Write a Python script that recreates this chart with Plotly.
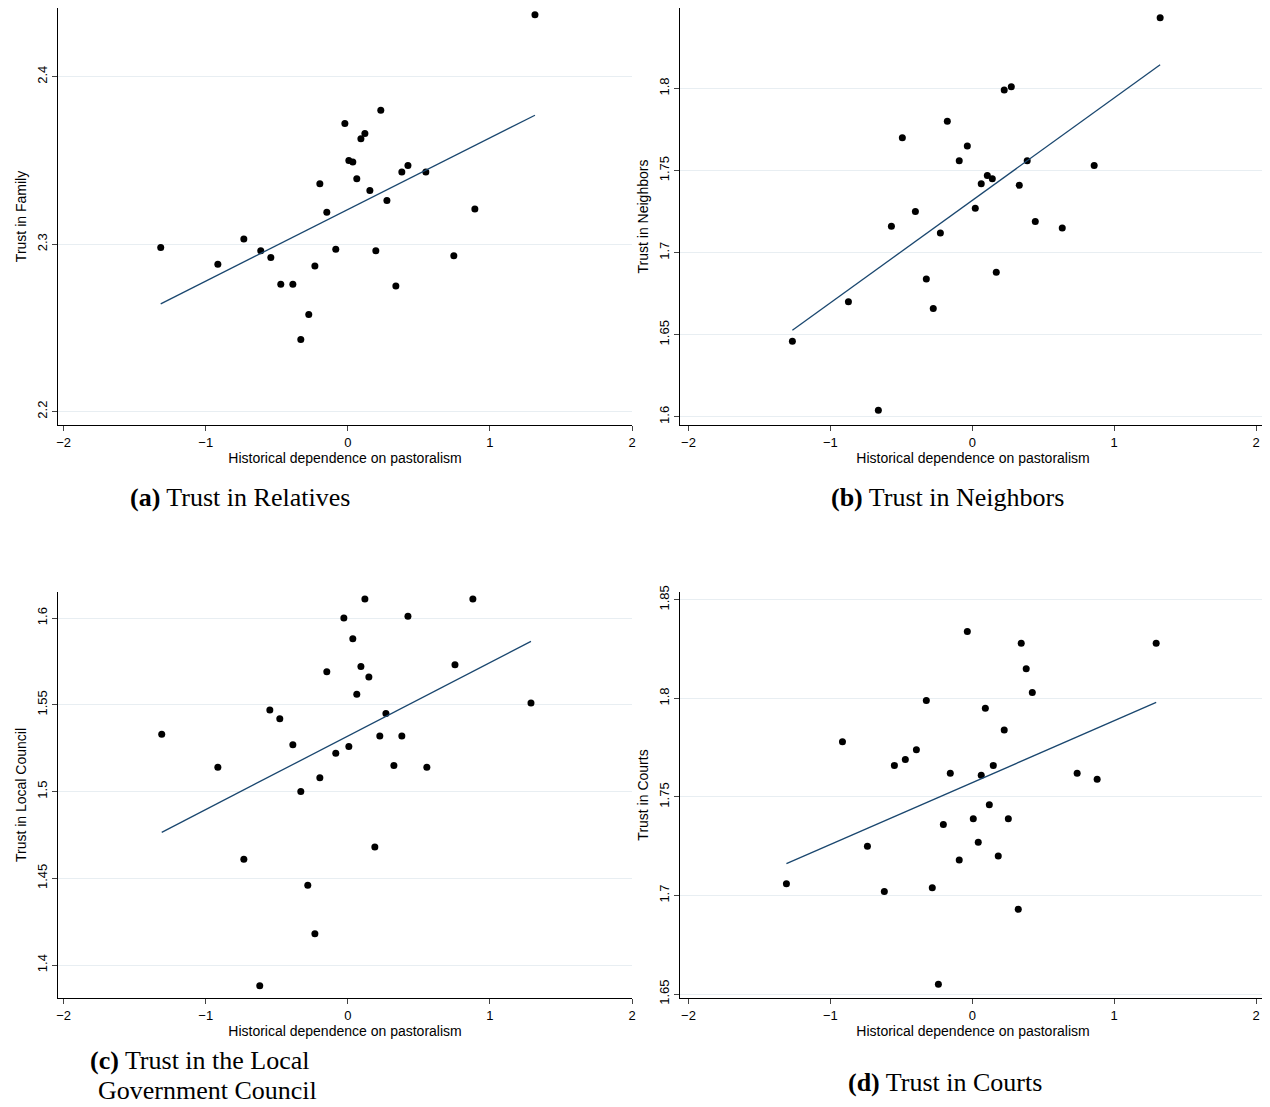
import numpy as np
import plotly.graph_objects as go

# Panel (a) Trust in Relatives
xa = [-1.317, -0.915, -0.732, -0.613, -0.542, -0.472, -0.387, -0.331, -0.275, -0.232,
      -0.197, -0.148, -0.085, -0.021, 0.007, 0.035, 0.063, 0.092, 0.120, 0.155,
      0.197, 0.232, 0.275, 0.338, 0.380, 0.423, 0.549, 0.746, 0.894, 1.317]
ya = [2.298, 2.288, 2.303, 2.296, 2.292, 2.276, 2.276, 2.243, 2.258, 2.287,
      2.336, 2.319, 2.297, 2.372, 2.350, 2.349, 2.339, 2.363, 2.366, 2.332,
      2.296, 2.380, 2.326, 2.275, 2.343, 2.347, 2.343, 2.293, 2.321, 2.437]

# Panel (b) Trust in Neighbors
xb = [-1.268, -0.873, -0.662, -0.570, -0.493, -0.401, -0.324, -0.275, -0.225, -0.176,
      -0.092, -0.035, 0.021, 0.063, 0.106, 0.141, 0.169, 0.225, 0.275, 0.331,
      0.387, 0.444, 0.634, 0.859, 1.324]
yb = [1.646, 1.670, 1.604, 1.716, 1.770, 1.725, 1.684, 1.666, 1.712, 1.780,
      1.756, 1.765, 1.727, 1.742, 1.747, 1.745, 1.688, 1.799, 1.801, 1.741,
      1.756, 1.719, 1.715, 1.753, 1.843]

# Panel (c) Trust in the Local Government Council
xc = [-1.310, -0.915, -0.732, -0.620, -0.549, -0.479, -0.387, -0.331, -0.282, -0.232,
      -0.197, -0.148, -0.085, -0.028, 0.007, 0.035, 0.063, 0.092, 0.120, 0.148,
      0.190, 0.225, 0.268, 0.324, 0.380, 0.423, 0.556, 0.754, 0.880, 1.289]
yc = [1.533, 1.514, 1.461, 1.388, 1.547, 1.542, 1.527, 1.500, 1.446, 1.418,
      1.508, 1.569, 1.522, 1.600, 1.526, 1.588, 1.556, 1.572, 1.611, 1.566,
      1.468, 1.532, 1.545, 1.515, 1.532, 1.601, 1.514, 1.573, 1.611, 1.551]

# Panel (d) Trust in Courts
xd = [-1.310, -0.915, -0.739, -0.620, -0.549, -0.472, -0.394, -0.324, -0.282, -0.239,
      -0.204, -0.155, -0.092, -0.035, 0.007, 0.042, 0.063, 0.092, 0.120, 0.148,
      0.183, 0.225, 0.254, 0.324, 0.345, 0.380, 0.423, 0.739, 0.880, 1.296]
yd = [1.706, 1.778, 1.725, 1.702, 1.766, 1.769, 1.774, 1.799, 1.704, 1.655,
      1.736, 1.762, 1.718, 1.834, 1.739, 1.727, 1.761, 1.795, 1.746, 1.766,
      1.720, 1.784, 1.739, 1.693, 1.828, 1.815, 1.803, 1.762, 1.759, 1.828]

W, H, OFF = 1270, 1107, 8  # page body margin offsets the figure by 8px


def px(v):
    return (v - OFF) / W


def py(v):
    return 1 - (v - OFF) / H


panels = [
    (xa, ya, "Trust in Family", [px(58), px(632)], [py(425), py(8)], [2.192, 2.441], [2.2, 2.3, 2.4], [-2.04, 2.0]),
    (xb, yb, "Trust in Neighbors", [px(680), px(1266)], [py(425), py(8)], [1.595, 1.849], [1.6, 1.65, 1.7, 1.75, 1.8], [-2.06, 2.07]),
    (xc, yc, "Trust in Local Council", [px(58), px(632)], [py(998), py(592)], [1.381, 1.615], [1.4, 1.45, 1.5, 1.55, 1.6], [-2.04, 2.0]),
    (xd, yd, "Trust in Courts", [px(680), px(1266)], [py(998), py(592)], [1.648, 1.854], [1.65, 1.7, 1.75, 1.8, 1.85], [-2.06, 2.07]),
]

fig = go.Figure()
layout = {}
for i, (x, y, ytitle, xdom, ydom, yrng, yticks, xrng) in enumerate(panels):
    n = "" if i == 0 else str(i + 1)
    x = np.array(x)
    y = np.array(y)
    slope, icpt = np.polyfit(x, y, 1)
    xl = np.array([x.min(), x.max()])
    fig.add_trace(go.Scatter(x=x, y=y, mode="markers", xaxis="x" + n, yaxis="y" + n,
                             marker=dict(color="black", size=7), showlegend=False, cliponaxis=False))
    fig.add_trace(go.Scatter(x=xl, y=slope * xl + icpt, mode="lines", xaxis="x" + n, yaxis="y" + n,
                             line=dict(color="#1a476f", width=1.3), showlegend=False))
    layout["xaxis" + n] = dict(domain=xdom, range=xrng, anchor="y" + n, tickvals=[-2, -1, 0, 1, 2],
                               ticktext=["\u22122", "\u22121", "0", "1", "2"], automargin=False,
                               showgrid=False, zeroline=False, showline=True, linecolor="black",
                               ticks="outside", ticklen=5, tickfont=dict(size=13),
                               title=dict(text="Historical dependence on pastoralism", font=dict(size=14), standoff=2))
    layout["yaxis" + n] = dict(domain=ydom, range=yrng, anchor="x" + n, tickvals=yticks, automargin=False,
                               tickangle=-90, showgrid=True, gridcolor="#e8eef2", zeroline=False,
                               showline=True, linecolor="black", ticks="outside", ticklen=5,
                               tickfont=dict(size=13),
                               title=dict(text=ytitle, font=dict(size=14), standoff=4))

cap = dict(family="Liberation Serif", size=26, color="black")
annots = [
    dict(x=px(240), y=py(497), text="<b>(a)</b> Trust in Relatives"),
    dict(x=px(947), y=py(497), text="<b>(b)</b> Trust in Neighbors"),
    dict(x=px(945), y=py(1082), text="<b>(d)</b> Trust in Courts"),
]
for a in annots:
    a.update(xref="paper", yref="paper", showarrow=False, font=cap, xanchor="center", yanchor="middle")
annots.append(dict(x=px(88), y=py(1060), xref="paper", yref="paper", showarrow=False,
                   font=cap, xanchor="left", yanchor="middle", align="left",
                   text="<b>(c)</b> Trust in the Local"))
annots.append(dict(x=px(96), y=py(1090), xref="paper", yref="paper", showarrow=False,
                   font=cap, xanchor="left", yanchor="middle", align="left",
                   text="Government Council"))

fig.update_layout(width=W, height=H, margin=dict(l=0, r=0, t=0, b=0, autoexpand=False),
                  paper_bgcolor="white", plot_bgcolor="white",
                  font=dict(family="Liberation Sans", color="black"),
                  annotations=annots, **layout)
fig.write_html("out.html")
